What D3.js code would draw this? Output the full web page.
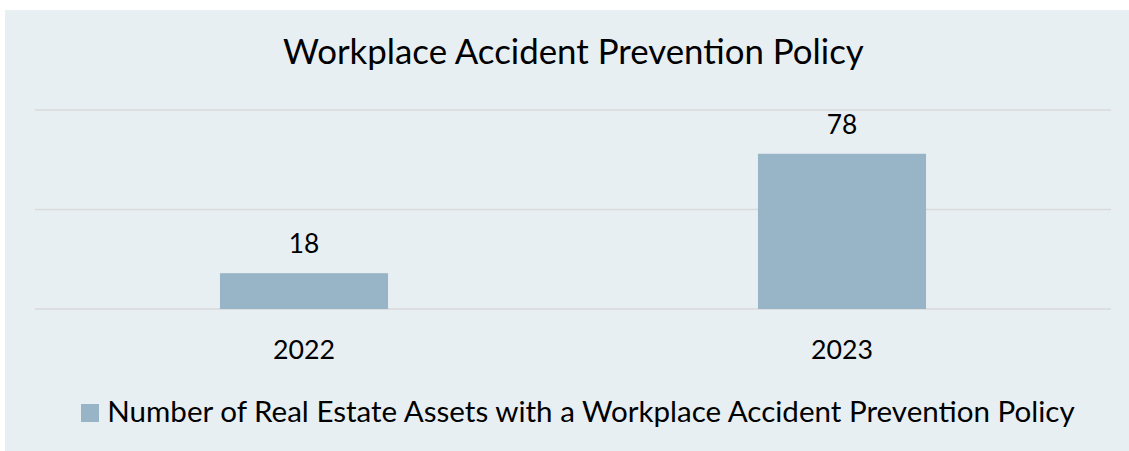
<!DOCTYPE html>
<html>
<head>
<meta charset="utf-8">
<script src="https://cdn.jsdelivr.net/npm/d3@7"></script>
<style>
  html, body { margin: 0; padding: 0; background: #ffffff; }
  svg { display: block; }
  text { font-family: Lato, "Open Sans", sans-serif; fill: #000; }
</style>
</head>
<body>
<svg id="chart" width="1129" height="451"></svg>
<script>
const categories = ["2022", "2023"];
const values = [18, 78];
const yTicks = [0, 50, 100];
const seriesName = "Number of Real Estate Assets with a Workplace Accident Prevention Policy";
const title = "Workplace Accident Prevention Policy";

const svg = d3.select("#chart");
const W = 1129, H = 451;

// panel background
svg.append("rect").attr("x", 5).attr("y", 10).attr("width", W - 5).attr("height", H - 10)
  .attr("fill", "#E8EFF3");

const plot = { left: 35, right: 1111, top: 110, bottom: 309 };

const x = d3.scaleBand().domain(categories).range([plot.left, plot.right]).padding(0);
const y = d3.scaleLinear().domain([0, 100]).range([plot.bottom, plot.top]);
const barW = x.bandwidth() * 0.3125;

// fit text width helper
function fit(sel, target) {
  const w = sel.node().getComputedTextLength();
  const fs = parseFloat(sel.attr("font-size"));
  sel.attr("font-size", (fs * target / w).toFixed(2));
  return sel;
}

// gridlines
svg.append("g").selectAll("line").data(yTicks).join("line")
  .attr("x1", plot.left).attr("x2", plot.right)
  .attr("y1", d => y(d)).attr("y2", d => y(d))
  .attr("stroke", "#D9D9D9").attr("stroke-width", 1.5);

// bars
svg.append("g").selectAll("rect").data(values).join("rect")
  .attr("x", (d, i) => x(categories[i]) + x.bandwidth() / 2 - barW / 2)
  .attr("width", barW)
  .attr("y", d => y(d))
  .attr("height", d => y(0) - y(d))
  .attr("fill", "#97B5C6");

// data labels
svg.append("g").selectAll("text").data(values).join("text")
  .attr("x", (d, i) => x(categories[i]) + x.bandwidth() / 2)
  .attr("y", d => y(d) - 19.7)
  .attr("text-anchor", "middle")
  .attr("font-size", 28)
  .text(d => d)
  .each(function() { fit(d3.select(this), 30.5); });

// x axis labels
svg.append("g").selectAll("text").data(categories).join("text")
  .attr("x", d => x(d) + x.bandwidth() / 2)
  .attr("y", 359.3)
  .attr("text-anchor", "middle")
  .attr("font-size", 28)
  .text(d => d)
  .each(function() { fit(d3.select(this), 62); });

// title
const t = svg.append("text")
  .attr("x", 573.4).attr("y", 64)
  .attr("text-anchor", "middle")
  .attr("font-size", 30)
  .text(title);
fit(t, 581);

// legend
svg.append("rect").attr("x", 81).attr("y", 404).attr("width", 18).attr("height", 18)
  .attr("fill", "#97B5C6");
const lt = svg.append("text")
  .attr("x", 107.3).attr("y", 421.7)
  .attr("font-size", 26)
  .text(seriesName);
fit(lt, 967.7);
</script>
</body>
</html>
